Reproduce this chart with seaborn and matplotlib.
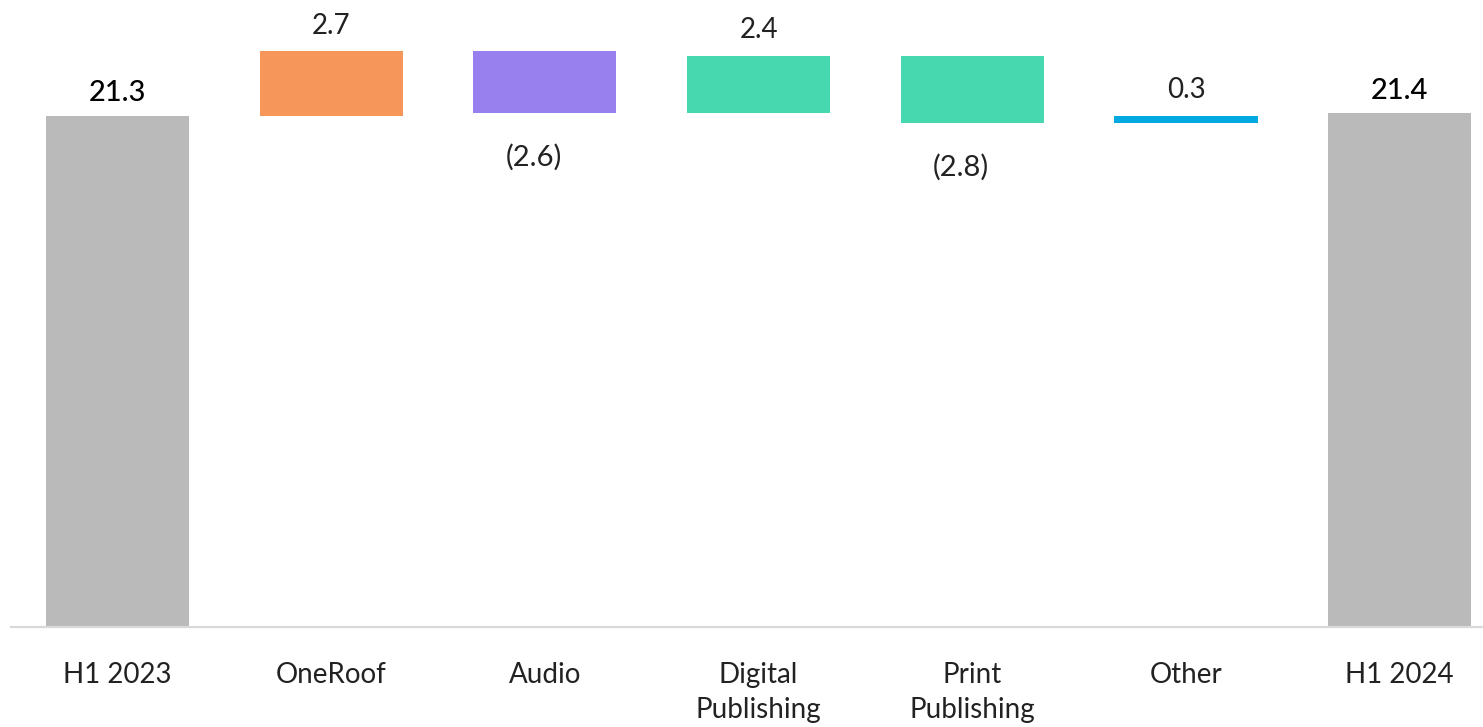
import numpy as np
import pandas as pd
import matplotlib
matplotlib.use("Agg")
import matplotlib.pyplot as plt
import seaborn as sns

# Revenue bridge, H1 2023 -> H1 2024 ($m)
categories = ["H1 2023", "OneRoof", "Audio", "Digital\nPublishing",
              "Print\nPublishing", "Other", "H1 2024"]
changes = [21.3, 2.7, -2.6, 2.4, -2.8, 0.3, 21.4]
is_total = [True, False, False, False, False, False, True]
bar_colors = ["#BABABA", "#F7965B", "#9881EF", "#48D8AF", "#48D8AF",
              "#00A9E0", "#BABABA"]
value_labels = ["21.3", "2.7", "(2.6)", "2.4", "(2.8)", "0.3", "21.4"]

# Floating bar geometry: totals start at zero, changes start at the running level
bottoms, heights = [], []
level = 0.0
for val, tot in zip(changes, is_total):
    if tot:
        bottoms.append(0.0)
        heights.append(val)
        level = val
    else:
        bottoms.append(level)
        heights.append(val)
        level += val

df = pd.DataFrame({"category": categories, "height": heights, "bottom": bottoms})

sns.set_theme(style="white")
plt.rcParams["font.family"] = ["Lato", "DejaVu Sans"]

fig = plt.figure(figsize=(14.83, 7.27), dpi=100)
ax = fig.add_axes([0.00722, 0.13755, 1.0086, 0.86245])

sns.barplot(data=df, x="category", y="height", order=categories,
            bottom=df["bottom"].to_numpy(), width=0.67, errorbar=None,
            color="#BABABA", linewidth=0, ax=ax)
for patch, col in zip(ax.patches, bar_colors):
    patch.set_facecolor(col)
    patch.set_edgecolor("none")

ax.set_xlim(-0.5, 6.5)
ax.set_ylim(0, 26.125)

# Value labels: totals and increases above the bar, decreases below it
for i, (b, h, tot, lab) in enumerate(zip(bottoms, heights, is_total, value_labels)):
    top = b + max(h, 0)
    low = b + min(h, 0)
    if tot:
        ax.annotate(lab, (i, top), xytext=(0, 7), textcoords="offset points",
                    ha="center", va="bottom", fontsize=21, color="#000000",
                    fontweight="medium")
    elif h >= 0:
        ax.annotate(lab, (i, top), xytext=(0, 9), textcoords="offset points",
                    ha="center", va="bottom", fontsize=20, color="#222222",
                    fontweight="normal")
    else:
        ax.annotate(lab, (i, low), xytext=(-8, -22), textcoords="offset points",
                    ha="center", va="top", fontsize=21, color="#222222",
                    fontweight="normal")

ax.set_xlabel("")
ax.set_ylabel("")
ax.set_yticks([])
for side in ["top", "right", "left"]:
    ax.spines[side].set_visible(False)
ax.spines["bottom"].set_color("#D9D9D9")
ax.spines["bottom"].set_linewidth(1.6)
ax.tick_params(axis="x", length=0, pad=25, labelsize=20, labelcolor="#222222")
for t in ax.get_xticklabels():
    t.set_fontweight("normal")
    t.set_linespacing(1.45)
    t.set_verticalalignment("top")

fig.savefig("out.png", dpi=100, facecolor="white")
